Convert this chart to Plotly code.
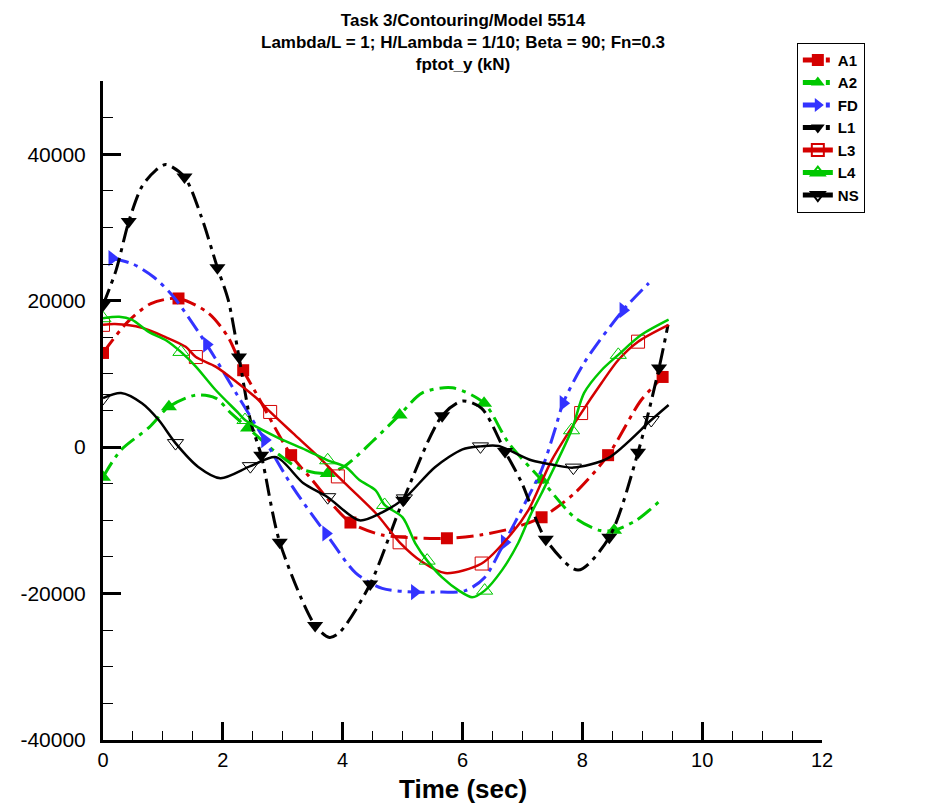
import plotly.graph_objects as go

# time (sec) / fptot_y (kN)
A1_t = [0, 0.4, 0.8, 1.26, 1.76, 2.09, 2.34, 2.56, 3.14, 3.45, 4.13, 4.66, 5.2, 5.74, 6.3, 6.82, 7.32, 7.87, 8.43, 8.98, 9.34, 9.44]
A1_y = [12860, 17000, 19600, 20300, 18300, 15000, 10500, 7300, -1100, -4100, -10300, -12000, -12400, -12450, -12000, -11100, -9580, -6300, -1100, 6400, 9580, 10500]
A1_marks = [0, 1.26, 2.34, 3.14, 4.13, 5.74, 7.32, 8.43, 9.34]

A2_t = [0, 0.3, 0.77, 1.1, 1.55, 1.88, 2.14, 2.42, 2.9, 3.3, 3.75, 4.05, 4.5, 4.95, 5.33, 5.83, 6.36, 6.77, 7.32, 7.87, 8.3, 8.53, 8.9, 9.34]
A2_y = [-4100, -400, 2700, 5500, 7100, 6700, 4600, 2600, -800, -3000, -3600, -2500, 800, 4400, 7400, 8100, 6000, 550, -4500, -9600, -11400, -11350, -10000, -7000]
A2_marks = [0, 1.1, 2.42, 3.75, 4.95, 6.36, 7.32, 8.53]

FD_t = [0.15, 0.5, 0.85, 1.18, 1.73, 2.22, 2.7, 3.17, 3.72, 4.22, 4.66, 5.2, 5.55, 6.05, 6.37, 6.7, 7.04, 7.32, 7.54, 7.68, 8.03, 8.68, 9.11]
FD_y = [25800, 25000, 23200, 20500, 14000, 7400, 960, -5500, -11800, -17200, -19300, -19800, -19800, -19600, -17800, -13000, -7700, -3100, 2300, 6000, 11500, 18700, 22400]
FD_marks = [0.15, 1.73, 2.7, 3.72, 5.2, 6.7, 7.68, 8.68]

L1_t = [0, 0.22, 0.43, 0.65, 0.88, 1.05, 1.36, 1.64, 1.91, 2.09, 2.27, 2.47, 2.64, 2.95, 3.54, 3.78, 3.95, 4.46, 5.01, 5.66, 6.0, 6.32, 6.71, 6.99, 7.39, 7.93, 8.45, 8.93, 9.28, 9.43]
L1_y = [19400, 24200, 30800, 35600, 37800, 38600, 36900, 31500, 24500, 20100, 12300, 3300, -1100, -13000, -24350, -26000, -25300, -18700, -7250, 4300, 6300, 5300, -600, -4900, -12600, -16800, -12300, -700, 10800, 16700]
L1_marks = [0, 0.43, 1.36, 1.91, 2.27, 2.64, 2.95, 3.54, 4.46, 5.01, 5.66, 6.71, 7.39, 8.45, 8.93, 9.28]

L3_t = [0, 0.2, 0.65, 1.05, 1.38, 1.55, 1.88, 2.26, 2.56, 2.79, 3.17, 3.62, 3.92, 4.55, 4.95, 5.33, 5.71, 6.32, 6.82, 7.1, 7.49, 7.98, 8.32, 8.6, 8.93, 9.44]
L3_y = [16700, 16800, 16300, 15000, 13700, 12300, 11000, 8700, 6700, 4800, 1900, -1500, -4000, -9000, -13000, -15700, -17200, -15900, -11800, -8600, -1780, 4650, 8760, 11900, 14400, 16700]
L3_marks = [0, 1.55, 2.79, 3.92, 4.95, 6.32, 7.98, 8.93]

L4_t = [0, 0.27, 0.48, 0.77, 1.05, 1.3, 1.55, 1.88, 2.26, 2.37, 2.89, 3.39, 3.75, 4.05, 4.28, 4.55, 4.7, 5.0, 5.21, 5.41, 5.66, 5.94, 6.16, 6.37, 6.66, 6.93, 7.15, 7.32, 7.82, 8.03, 8.32, 8.6, 8.98, 9.44]
L4_y = [17600, 17800, 17400, 15700, 14600, 13000, 11000, 7800, 4650, 3700, 1400, -400, -1800, -2700, -4500, -5900, -7900, -9600, -13100, -15500, -17800, -19600, -20500, -19600, -16800, -13100, -9000, -6300, 2300, 7400, 10500, 12600, 15300, 17400]
L4_marks = [0, 1.3, 2.37, 3.75, 4.7, 5.41, 6.37, 7.82, 8.6]

NS_t = [0, 0.3, 0.65, 0.93, 1.21, 1.59, 1.96, 2.46, 2.89, 3.34, 3.75, 4.28, 4.66, 5.03, 5.54, 6.0, 6.3, 6.6, 7.15, 7.54, 7.85, 8.43, 9.15, 9.44]
NS_y = [6700, 7400, 6000, 3700, 550, -2700, -4240, -2600, -1370, -4900, -6840, -10000, -8900, -7000, -2740, -300, 100, 150, -1800, -2460, -2800, -1500, 3700, 5750]
NS_marks = [0, 1.21, 2.46, 3.75, 5.03, 6.3, 7.85, 9.15]

Y_TICKS = [-40000, -20000, 0, 20000, 40000]
Y_LABELS = ["-40000", "-20000", "0", "20000", "40000"]

TITLE = "Task 3/Contouring/Model 5514<br>Lambda/L = 1; H/Lambda = 1/10; Beta = 90; Fn=0.3<br>fptot_y (kN)"

RED = "#d40000"
GREEN = "#00c800"
BLUE = "#3333ff"
DASHDOT = "17px,6px,4px,6px"

series = [
    ("A1", A1_t, A1_y, A1_marks, RED, DASHDOT, "square", True, 12),
    ("A2", A2_t, A2_y, A2_marks, GREEN, DASHDOT, "triangle-up", True, 14),
    ("FD", FD_t, FD_y, FD_marks, BLUE, DASHDOT, "triangle-right", True, 14),
    ("L1", L1_t, L1_y, L1_marks, "black", DASHDOT, "triangle-down", True, 14),
    ("L3", L3_t, L3_y, L3_marks, RED, "solid", "square-open", False, 13),
    ("L4", L4_t, L4_y, L4_marks, GREEN, "solid", "triangle-up-open", False, 14),
    ("NS", NS_t, NS_y, NS_marks, "black", "solid", "triangle-down-open", False, 14),
]

fig = go.Figure()
for name, t, y, marks, color, dash, symbol, filled, msize in series:
    on = [ti in marks for ti in t]
    sizes = [msize if m else 0 for m in on]
    lw = [0 if filled else (1 if m else 0) for m in on]
    fig.add_trace(go.Scatter(
        x=t, y=y, name="<b>%s</b>" % name, mode="lines+markers",
        line=dict(color=color, width=3 if filled else 2.5, dash=dash, shape="spline", smoothing=0.8),
        marker=dict(symbol=symbol, size=sizes, color=color, opacity=1,
                    line=dict(color=color, width=lw)),
    ))

font = "Liberation Sans, Arial, sans-serif"
# page body has an 8px margin, so the figure is 8px smaller and margins shifted
fig.update_layout(
    width=924, height=797,
    margin=dict(l=91, r=110, t=73, b=65),
    plot_bgcolor="white", paper_bgcolor="white",
    font=dict(family=font, color="black"),
    legend=dict(
        x=0.965, y=1.058, xanchor="left", yanchor="top",
        bordercolor="black", borderwidth=1, bgcolor="white",
        font=dict(size=15, family=font), itemsizing="constant",
        tracegroupgap=0,
    ),
    showlegend=True,
)
fig.add_annotation(
    text="<b>%s</b>" % TITLE, xref="paper", yref="paper",
    x=0.5, y=1.059, xanchor="center", yanchor="middle", align="center",
    showarrow=False, font=dict(size=17, family=font),
)
fig.add_annotation(
    text="<b>Time (sec)</b>", xref="paper", yref="paper",
    x=0.5, y=-0.074, xanchor="center", yanchor="middle",
    showarrow=False, font=dict(size=26, family=font),
)
fig.update_xaxes(
    range=[0, 12], dtick=2, tick0=0,
    showline=True, linecolor="black", linewidth=3, mirror=False,
    showgrid=False, zeroline=False,
    ticks="inside", ticklen=18, tickwidth=2.5, tickcolor="black",
    minor=dict(dtick=0.5, ticks="inside", ticklen=9, tickwidth=1.2, tickcolor="black"),
    tickfont=dict(size=20, family=font),
)
fig.update_yaxes(
    range=[-40000, 50000], tickvals=Y_TICKS, ticktext=Y_LABELS,
    showline=True, linecolor="black", linewidth=3, mirror=False,
    showgrid=False, zeroline=False,
    ticks="inside", ticklen=18, tickwidth=2.5, tickcolor="black",
    minor=dict(dtick=5000, ticks="inside", ticklen=10, tickwidth=1.2, tickcolor="black"),
    tickfont=dict(size=21, family=font),
    ticklabelstandoff=10,
)

fig.write_html("out.html")
